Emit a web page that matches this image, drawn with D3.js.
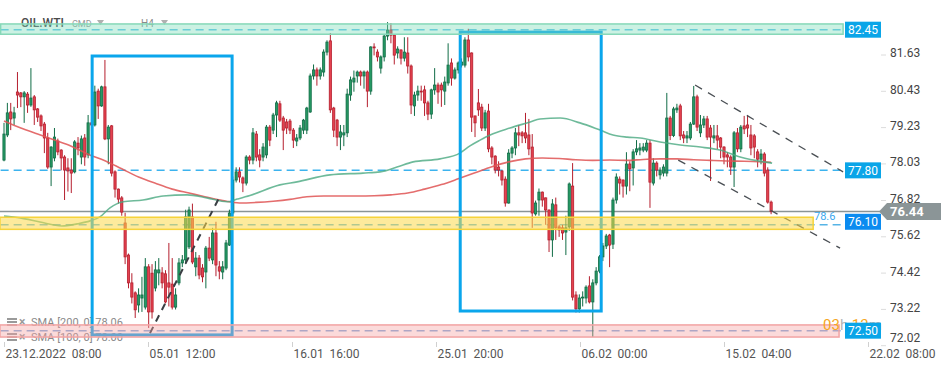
<!DOCTYPE html>
<html>
<head>
<meta charset="utf-8">
<script src="https://cdn.jsdelivr.net/npm/d3@7"></script>
<style>
body { margin: 0; background: #fff; }
svg { display: block; font-family: Roboto, "Noto Sans", sans-serif; }
</style>
</head>
<body>
<script>
let width = 949;
let height = 370;

// H4 candles, [open, high, low, close]
let ohlc = [
  [78.14,79.37,78.10,79.00],[78.97,80.03,78.90,79.70],[79.73,80.03,79.13,79.50],[79.53,79.90,79.30,79.70],
  [80.39,81.05,79.86,80.29],[80.36,80.39,79.89,80.23],[80.23,80.42,79.37,80.36],[80.32,80.39,79.70,79.96],
  [79.96,81.18,79.90,80.19],[80.23,80.29,79.30,79.80],[79.83,79.86,79.40,79.56],[79.60,79.65,79.10,79.27],
  [79.33,79.40,78.37,78.87],[78.87,79.04,77.85,77.91],[77.91,78.60,77.28,78.57],[78.21,79.20,78.10,78.90],
  [78.77,78.85,78.30,78.41],[78.47,78.50,77.80,78.21],[78.24,78.30,76.82,77.81],[77.88,78.20,77.10,77.78],
  [77.81,78.20,77.05,77.71],[77.75,78.80,77.70,78.74],[78.70,78.90,78.30,78.54],[78.24,78.95,78.00,78.84],
  [78.87,79.00,77.95,78.24],[78.31,79.63,78.20,79.37],[79.37,79.50,79.10,79.30],[79.30,80.60,79.25,80.39],
  [80.42,80.50,79.50,79.93],[79.93,80.60,79.90,80.56],[80.56,81.45,78.80,78.84],[78.84,79.30,78.00,79.23],
  [79.27,79.30,77.60,77.71],[77.75,77.80,76.90,77.18],[77.18,77.20,76.70,76.85],[76.89,76.95,76.30,76.42],
  [76.06,76.40,74.70,74.94],[75.00,75.05,73.90,74.08],[74.08,74.40,73.40,73.61],[73.75,73.80,72.92,73.19],
  [73.35,73.90,73.10,73.68],[73.58,74.28,73.12,73.68],[73.28,74.90,73.20,74.61],[74.61,74.70,72.59,73.12],
  [74.40,74.70,72.90,73.12],[73.91,74.80,73.80,74.51],[74.41,74.90,74.00,74.51],[74.41,74.60,73.90,74.08],
  [74.38,74.50,73.40,73.45],[74.08,75.40,73.30,73.94],[74.04,74.90,73.20,73.28],[73.28,73.90,73.20,73.68],
  [74.08,74.90,74.00,74.74],[74.74,75.00,74.60,74.84],[74.84,76.50,74.70,76.26],[75.27,76.60,75.20,76.49],
  [76.26,76.70,74.70,74.77],[74.61,75.10,74.30,74.90],[74.90,75.00,74.20,74.34],[74.57,74.70,74.10,74.28],
  [74.44,75.30,73.90,75.23],[75.23,75.60,74.80,74.90],[74.84,75.90,74.70,75.73],[75.73,76.10,74.30,74.67],
  [74.61,74.80,74.20,74.47],[74.44,74.80,74.20,74.61],[74.57,75.50,74.50,75.40],[75.33,76.50,75.30,76.39],
  [76.39,77.60,76.30,77.48],[77.48,77.90,77.40,77.75],[77.75,77.90,77.40,77.58],[77.55,77.60,77.08,77.38],
  [77.38,78.30,77.30,78.24],[78.24,78.30,78.00,78.14],[78.14,79.20,78.00,79.04],[79.00,79.10,78.10,78.24],
  [78.31,78.50,77.90,78.14],[78.24,78.70,78.10,78.57],[78.31,79.30,78.20,79.23],[79.23,79.30,78.60,78.80],
  [79.13,79.70,79.00,79.63],[79.63,80.10,78.90,80.03],[80.00,80.10,79.40,79.46],[79.53,79.60,78.47,79.13],
  [79.40,79.50,79.00,79.20],[79.43,79.50,79.00,79.13],[79.13,79.20,78.54,78.80],[78.77,79.00,78.60,78.87],
  [78.87,79.30,78.80,79.20],[79.13,79.50,79.00,79.46],[79.13,79.90,79.00,79.86],[79.73,81.00,79.70,80.92],
  [80.92,81.30,80.80,81.12],[81.12,81.20,80.60,80.92],[80.92,81.20,80.80,81.12],[81.05,81.80,80.90,81.71],
  [81.71,82.10,81.60,82.04],[82.08,82.34,79.70,79.80],[79.86,79.90,78.90,79.13],[79.46,79.50,78.60,78.90],
  [78.90,79.30,78.47,79.07],[78.97,79.30,78.60,79.04],[79.04,80.50,78.90,80.32],[80.29,80.90,80.10,80.79],
  [80.72,81.10,80.40,80.85],[80.92,81.10,80.70,81.05],[81.05,81.10,80.60,80.92],[80.92,81.10,80.50,81.05],
  [81.05,81.10,79.89,80.42],[80.42,81.90,80.30,81.88],[81.88,82.00,81.60,81.85],[81.71,81.80,81.40,81.55],
  [81.18,81.60,81.00,81.55],[81.55,82.30,81.40,82.24],[82.24,82.70,82.10,82.44],[82.44,82.67,82.00,82.27],
  [82.27,82.30,81.30,81.61],[81.68,81.90,81.50,81.81],[81.78,81.80,81.30,81.51],[81.51,82.20,81.40,81.71],
  [81.68,82.20,81.00,81.25],[81.25,81.30,79.66,79.96],[79.93,80.40,79.60,80.29],[80.29,80.60,80.10,80.42],
  [80.42,80.60,80.10,80.39],[80.46,80.60,79.60,80.03],[80.03,80.10,79.46,79.66],[79.66,80.50,79.50,80.46],
  [80.46,81.18,80.30,80.62],[80.62,80.70,80.00,80.39],[80.62,80.70,79.90,80.46],[80.42,80.90,79.96,80.72],
  [80.69,82.00,80.60,81.28],[81.35,81.50,80.60,80.85],[80.85,81.20,80.80,81.12],[81.12,81.40,81.00,81.35],
  [81.28,81.50,81.20,81.38],[81.28,82.20,81.20,82.11],[82.11,82.48,81.40,81.55],[81.68,81.70,79.07,79.56],
  [79.60,79.60,78.90,79.37],[80.03,80.49,79.60,79.80],[79.89,80.00,79.10,79.20],[79.20,79.80,79.10,79.70],
  [79.76,80.00,78.40,78.51],[78.54,78.60,78.00,78.24],[78.27,78.30,77.70,77.81],[77.91,78.10,77.60,77.81],
  [77.78,77.80,77.30,77.48],[77.51,77.60,76.60,76.72],[76.72,78.50,76.70,78.37],[78.37,78.60,78.20,78.54],
  [78.54,79.20,78.30,79.04],[79.04,79.30,78.60,78.97],[79.04,79.10,78.70,78.94],[79.04,79.70,78.70,78.87],
  [78.97,79.50,78.30,78.51],[78.57,79.00,75.90,76.39],[76.36,76.80,76.30,76.72],[76.82,77.20,76.30,77.08],
  [77.08,77.10,76.60,76.82],[76.89,76.90,76.00,76.49],[76.49,76.50,75.10,75.50],[75.50,76.85,74.94,76.69],
  [76.66,76.90,75.50,75.90],[75.93,76.00,75.60,75.83],[75.90,76.00,75.50,75.73],[75.76,76.30,75.00,75.90],
  [75.93,77.40,75.80,77.35],[77.28,78.04,73.50,73.61],[73.68,73.80,73.10,73.22],[73.22,73.70,73.10,73.58],
  [73.58,73.80,73.30,73.61],[73.58,74.00,73.40,73.94],[73.98,74.30,73.40,73.45],[73.45,74.20,72.29,74.08],
  [74.08,74.60,74.00,74.47],[74.47,75.00,74.40,74.94],[74.94,75.40,74.80,75.30],[75.30,75.70,75.20,75.63],
  [75.66,75.70,74.60,75.33],[75.36,76.90,75.20,76.82],[76.82,77.70,76.70,77.58],[77.51,77.60,77.00,77.38],
  [77.48,77.50,76.90,77.28],[77.28,78.40,77.00,78.01],[78.01,78.10,77.11,77.85],[77.88,78.50,77.30,78.41],
  [78.41,78.80,78.30,78.51],[78.47,78.70,78.30,78.54],[78.47,78.70,78.40,78.57],[78.47,78.80,78.40,78.70],
  [78.70,78.80,76.56,77.41],[77.38,78.20,77.30,78.04],[78.04,78.10,77.60,77.81],[77.65,77.90,77.50,77.81],
  [77.71,78.00,77.60,77.91],[77.71,80.36,77.60,79.53],[79.53,79.60,78.80,78.95],[78.95,79.90,78.90,79.83],
  [79.80,80.00,79.70,79.86],[79.93,80.00,78.80,78.94],[78.97,79.10,78.70,78.87],[78.87,79.10,78.70,78.94],
  [78.87,79.40,78.80,79.33],[79.33,80.59,79.30,80.23],[80.23,80.30,79.10,79.23],[79.04,79.63,78.90,79.30],
  [79.30,79.60,79.20,79.50],[79.50,79.60,78.80,78.90],[79.20,79.30,77.45,78.90],[78.87,79.30,78.70,78.94],
  [78.94,79.30,78.50,78.80],[78.87,78.90,78.20,78.57],[78.57,78.60,78.00,78.24],[78.31,78.40,77.90,78.24],
  [78.24,78.30,77.65,77.91],[77.91,79.10,77.25,79.04],[79.04,79.20,78.40,78.51],[78.51,79.30,78.40,79.23],
  [79.27,79.60,79.00,79.17],[79.30,79.63,78.90,79.20],[78.97,79.30,78.30,78.54],[78.94,79.00,78.20,78.57],
  [78.41,78.50,77.90,78.17],[78.17,78.50,78.00,78.34],[78.34,78.40,77.60,77.71],[77.81,77.90,76.70,76.75],
  [76.75,76.80,76.35,76.44]
];

// moving averages, [candle index, value]
let smaRed = [
  [0,79.43],[5,79.20],[10,79.00],[15,78.80],[20,78.60],[25,78.33],[30,78.12],[35,77.85],[40,77.58],
  [45,77.37],[50,77.18],[55,77.05],[60,76.92],[65,76.80],[70,76.72],[75,76.74],[80,76.78],[85,76.84],
  [90,76.93],[95,76.95],[100,76.95],[105,76.95],[110,76.96],[115,76.99],[120,77.05],[125,77.18],
  [130,77.33],[135,77.52],[140,77.72],[145,77.92],[150,78.08],[155,78.18],[160,78.21],[165,78.19],
  [170,78.15],[175,78.13],[180,78.14],[185,78.13],[190,78.16],[195,78.18],[200,78.18],[205,78.15],
  [210,78.13],[215,78.11],[220,78.10],[228,78.07]
];
let smaGreen = [
  [0,76.29],[4.8,76.23],[10.7,76.09],[17.2,75.96],[21.7,76.03],[25.6,76.13],[28.5,76.26],[31.5,76.56],
  [35.4,76.76],[41.3,76.82],[47.3,76.95],[54.4,76.99],[60.3,76.89],[66.3,76.76],[69.3,76.85],[73.1,76.97],
  [82,77.32],[87.1,77.42],[96.9,77.65],[106.7,77.71],[111.8,77.75],[116.8,77.91],[121.6,78.08],[129.6,78.18],
  [135.5,78.37],[138.5,78.61],[141.5,78.80],[144.5,78.97],[150.4,79.20],[156.4,79.40],[159.3,79.50],
  [165.3,79.53],[171.2,79.37],[177.2,79.13],[181,78.97],[185.2,78.90],[189.1,78.87],[195,78.74],
  [201,78.64],[207,78.57],[212.8,78.47],[218.8,78.24],[228.3,78.04]
];

let priceTicks = [81.63, 80.43, 79.23, 78.03, 76.82, 75.62, 74.42, 73.22, 72.02];
let timeTicks = [0, 42.8, 85.6, 128.4, 171.2, 214, 256.8];
let timeLabels = ['23.12.2022  08:00', '05.01  12:00', '16.01  16:00', '25.01  20:00', '06.02  00:00', '15.02  04:00', '22.02  08:00'];

let levelLabels = [82.45, 77.80, 76.10, 72.50];
let levelLines = [82.45, 77.80, 76.00, 72.50];
let lastPrice = 76.44;
let legendRows = ['SMA [200, 0] 78.06', 'SMA [100, 0] 78.00'];

// drawn zones [from index, to index, low, high]
let zones = [[-1, 249.4, 82.30, 82.64], [-1.2, 240.5, 75.85, 76.25], [-1.2, 248.2, 72.29, 72.69]];
// drawn rectangles [from index, to index, low, high]
let boxes = [[26.2, 67.8, 72.36, 81.58], [135.6, 177.5, 73.15, 82.37]];
// drawn trend lines [index1, price1, index2, price2]
let trends = [[43.4, 72.42, 64.2, 76.95], [205.4, 80.62, 249.4, 77.75], [200.4, 78.14, 248.5, 75.23]];

let x = d3.scaleLinear().domain([0, 256.8]).range([4, 868]);
let y = d3.scaleLinear().domain([72.02, 81.63]).range([345.2, 54.5]);

let svg = d3.select('body').append('svg')
    .attr('width', width)
    .attr('height', height);

// header
let head = svg.append('g');
head.append('text').attr('x', 21).attr('y', 27).attr('font-size', 12).attr('font-weight', 500)
    .attr('fill', '#4a4a4a').text('OIL.WTI');
head.append('text').attr('x', 72).attr('y', 27).attr('font-size', 9).attr('fill', '#9a9a9a').text('CMD');
head.append('text').attr('x', 141).attr('y', 27).attr('font-size', 10).attr('fill', '#8a8a8a').text('H4');
[97, 161].forEach(tx => {
  head.append('path').attr('d', `M${tx},20 L${tx + 7},20 L${tx + 3.5},25 Z`).attr('fill', '#b0b0b0');
});

// legend
legendRows.forEach((t, k) => {
  let ly = 326 + k * 15;
  let g = svg.append('g');
  [0, 3, 6].forEach(o => g.append('rect').attr('x', 7).attr('y', ly - 8 + o).attr('width', 10).attr('height', 2).attr('fill', '#9a9a9a'));
  g.append('text').attr('x', 19).attr('y', ly).attr('font-size', 12).attr('font-weight', 700).attr('fill', '#9a9a9a').text('×');
  g.append('text').attr('x', 31).attr('y', ly).attr('font-size', 11).attr('fill', '#8a8a8a').text(t);
});

// horizontal levels
let lineColor = ['#5ec3ea', '#3cb3ee', '#56b4e6', '#7fa9dc'];
levelLines.forEach((v, k) => {
  svg.append('line')
      .attr('x1', x(-1)).attr('x2', x(249.4))
      .attr('y1', y(v)).attr('y2', y(v))
      .attr('stroke', lineColor[k]).attr('stroke-width', 1.5)
      .attr('stroke-dasharray', '8,5');
});
svg.append('line')
    .attr('x1', 0).attr('x2', 880)
    .attr('y1', y(lastPrice)).attr('y2', y(lastPrice))
    .attr('stroke', '#8a9496').attr('stroke-width', 1.3);

// candles
let up = {fill: '#279a64', stroke: '#106c46'};
let dn = {fill: '#e4424f', stroke: '#b51f2e'};
let candle = svg.append('g').selectAll('g')
    .data(ohlc)
  .enter().append('g');
candle.append('line')
    .attr('x1', (d, i) => x(i)).attr('x2', (d, i) => x(i))
    .attr('y1', d => y(d[1])).attr('y2', d => y(d[2]))
    .attr('stroke', d => d[3] >= d[0] ? up.stroke : dn.stroke)
    .attr('stroke-width', 1);
candle.append('rect')
    .attr('x', (d, i) => x(i) - 1.1)
    .attr('width', 2.2)
    .attr('y', d => y(Math.max(d[0], d[3])))
    .attr('height', d => Math.max(0.8, Math.abs(y(d[0]) - y(d[3]))))
    .attr('fill', d => d[3] >= d[0] ? up.fill : dn.fill)
    .attr('stroke', d => d[3] >= d[0] ? up.stroke : dn.stroke)
    .attr('stroke-width', 0.8);

// moving averages
let line = d3.line().x(d => x(d[0])).y(d => y(d[1])).curve(d3.curveMonotoneX);
svg.append('path').datum(smaRed).attr('d', line)
    .attr('fill', 'none').attr('stroke', '#df5454').attr('stroke-width', 1.6).attr('stroke-opacity', 0.85);
svg.append('path').datum(smaGreen).attr('d', line)
    .attr('fill', 'none').attr('stroke', '#4aa981').attr('stroke-width', 1.6).attr('stroke-opacity', 0.8);

// drawings
svg.append('g').selectAll('rect')
    .data(boxes)
  .enter().append('rect')
    .attr('x', d => x(d[0])).attr('width', d => x(d[1]) - x(d[0]))
    .attr('y', d => y(d[3])).attr('height', d => y(d[2]) - y(d[3]))
    .attr('fill', 'none').attr('stroke', '#0aa6ec').attr('stroke-width', 3);

svg.append('g').selectAll('line')
    .data(trends)
  .enter().append('line')
    .attr('x1', d => x(d[0])).attr('y1', d => y(d[1]))
    .attr('x2', d => x(d[2])).attr('y2', d => y(d[3]))
    .attr('stroke', (d, i) => i === 0 ? '#3a3f44' : '#4a4f54')
    .attr('stroke-width', (d, i) => i === 0 ? 2 : 1.3)
    .attr('stroke-dasharray', (d, i) => i === 0 ? '7,6' : '8,7');

// zones over everything
let zoneFill = ['#7ddbb8', '#fcd84a', '#f5a3a3'];
let zoneStroke = ['#86d8b8', '#f6d33a', '#f2a3a3'];
zones.forEach((z, k) => {
  svg.append('rect')
      .attr('x', x(z[0])).attr('width', x(z[1]) - x(z[0]))
      .attr('y', y(z[3])).attr('height', y(z[2]) - y(z[3]))
      .attr('fill', zoneFill[k]).attr('fill-opacity', k === 1 ? 0.55 : 0.4)
      .attr('stroke', zoneStroke[k]).attr('stroke-width', 1.5);
});

svg.append('text').attr('x', 814).attr('y', y(76.10) - 2)
    .attr('font-size', 11).attr('fill', '#3aa8ee').text('78.6');

// time left on candle
let tl = svg.append('text').attr('x', 823).attr('y', 330).attr('font-size', 15);
tl.append('tspan').attr('fill', '#f5a623').text('03');
tl.append('tspan').attr('fill', '#b5b5b5').text('h ');
tl.append('tspan').attr('fill', '#f5a623').text('13');
tl.append('tspan').attr('fill', '#b5b5b5').text('m');

// axes
let yAxis = svg.append('g')
    .attr('transform', 'translate(881,0)')
    .call(d3.axisRight(y).tickValues(priceTicks).tickFormat(d3.format('.2f')).tickSize(5).tickPadding(4));
yAxis.select('.domain').remove();
yAxis.selectAll('line').attr('stroke', '#dcdcdc');
yAxis.selectAll('text')
    .attr('font-size', 12).attr('font-family', 'Roboto, sans-serif').attr('fill', '#444')
    .attr('dy', '0.2em')
    .attr('y', d => d === 72.02 ? -6 : 0);

let xAxis = svg.append('g')
    .attr('transform', 'translate(0,342)')
    .call(d3.axisBottom(x).tickValues(timeTicks).tickFormat((d, i) => timeLabels[i]).tickSize(5).tickPadding(2));
xAxis.select('.domain').remove();
xAxis.selectAll('line').attr('stroke', '#d0d0d0');
xAxis.selectAll('text')
    .attr('font-size', 12).attr('font-family', 'Roboto, sans-serif').attr('fill', '#555')
    .attr('text-anchor', 'start').attr('x', 1)
    .style('white-space', 'pre');

// price labels on the right
let labelFill = ['#0aa5e8', '#0aa5e8', '#0b8bf0', '#0aa5e8'];
levelLabels.forEach((v, k) => {
  let ly = y(v);
  svg.append('rect').attr('x', 845).attr('y', ly - 8).attr('width', 36).attr('height', 16).attr('fill', labelFill[k]);
  svg.append('text').attr('x', 863).attr('y', ly + 4.5).attr('text-anchor', 'middle')
      .attr('font-size', 12).attr('fill', '#fff').text(d3.format('.2f')(v));
});

let py = y(lastPrice);
svg.append('path')
    .attr('d', `M879,${py} L887,${py - 8.5} L941,${py - 8.5} L941,${py + 8.5} L887,${py + 8.5} Z`)
    .attr('fill', '#8b9597');
svg.append('text').attr('x', 890).attr('y', py + 5).attr('font-size', 13).attr('font-weight', 700)
    .attr('fill', '#fff').text(d3.format('.2f')(lastPrice));
</script>
</body>
</html>
